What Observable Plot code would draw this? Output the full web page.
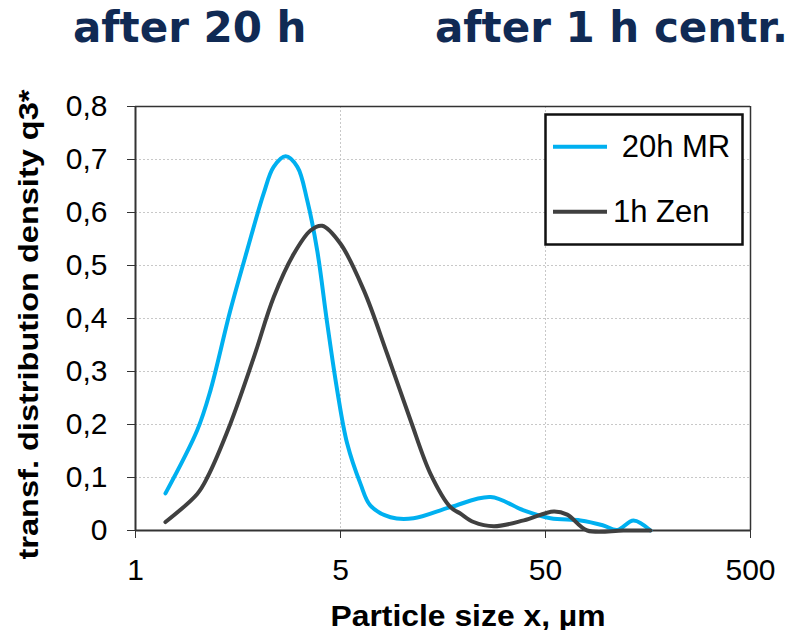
<!DOCTYPE html>
<html>
<head>
<meta charset="utf-8">
<script src="https://cdn.jsdelivr.net/npm/d3@7"></script>
<script src="https://cdn.jsdelivr.net/npm/@observablehq/plot@0.6"></script>
<style>
  html, body { margin: 0; padding: 0; background: #fff; }
  #wrap { position: relative; width: 794px; height: 630px; overflow: hidden; }
  #heads { position: relative; width: 794px; height: 64px; }
  .head { position: absolute; top: 7px; font-family: "DejaVu Sans", Verdana, sans-serif; font-weight: bold; font-size: 42px; line-height: 41px; color: #102a54; white-space: nowrap; }
  #legend { position: absolute; left: 544px; top: 113px; }
</style>
</head>
<body>
<div id="wrap">
  <div id="heads">
    <span class="head" style="left:73px">after 20 h</span>
    <span class="head" style="left:435px">after 1 h centr.</span>
  </div>
  <div id="chart"></div>
  <svg id="legend" width="200" height="133"></svg>
</div>
<script>
// ---- data ----
const seriesNames = ["20h MR", "1h Zen"];
const seriesColors = ["#00b0f0", "#404040"];

const mrX = [0.70, 1.00, 1.16, 1.45, 1.75, 2.11, 2.36, 2.70, 3.08, 3.44, 3.85, 4.31, 4.82, 5.39, 6.26, 7.0, 8.77, 11.35, 17.2, 27.0, 39.1, 52.9, 74.1, 95, 111.9, 134.4, 162.6];
const mrY = [0.070, 0.189, 0.264, 0.415, 0.528, 0.636, 0.686, 0.706, 0.686, 0.623, 0.528, 0.390, 0.264, 0.164, 0.088, 0.047, 0.025, 0.023, 0.044, 0.063, 0.038, 0.023, 0.019, 0.010, 0.001, 0.019, 0.0];

const zenX = [0.70, 1.00, 1.12, 1.45, 1.89, 2.36, 2.96, 3.57, 4.07, 5.0, 6.50, 8.45, 10.98, 13.74, 17.2, 19.2, 22.3, 28.0, 39.2, 54.9, 63.8, 79.9, 120, 162.6];
const zenY = [0.016, 0.069, 0.100, 0.201, 0.327, 0.440, 0.522, 0.566, 0.575, 0.541, 0.453, 0.333, 0.208, 0.107, 0.044, 0.032, 0.016, 0.008, 0.019, 0.036, 0.030, 0.0, 0.0, 0.0];

const xTicks = [0.5, 5, 50, 500];
const xTickLabels = ["1", "5", "50", "500"];
const yTicks = [0, 0.1, 0.2, 0.3, 0.4, 0.5, 0.6, 0.7, 0.8];
const yTickLabels = ["0", "0,1", "0,2", "0,3", "0,4", "0,5", "0,6", "0,7", "0,8"];
const yGrid = [0.1, 0.2, 0.3, 0.4, 0.5, 0.6, 0.7];
const xGrid = [5, 50];

const xLabel = "Particle size x, µm";
const yLabel = "transf. distribution density q3*";

const rows = [
  ...mrX.map((x, i) => ({x, y: mrY[i], s: seriesNames[0]})),
  ...zenX.map((x, i) => ({x, y: zenY[i], s: seriesNames[1]}))
];

const chart = Plot.plot({
  width: 794,
  height: 566,
  marginTop: 42,
  marginBottom: 100,
  marginLeft: 135,
  marginRight: 44,
  style: {fontFamily: "'Liberation Sans', Arial, sans-serif", fontSize: "30px", color: "#000", background: "transparent", overflow: "visible"},
  x: {type: "log", domain: [0.5, 500]},
  y: {domain: [0, 0.8]},
  color: {domain: seriesNames, range: seriesColors},
  marks: [
    Plot.gridY(yGrid, {stroke: "#c8c8c8", strokeOpacity: 1, strokeDasharray: "2,2", strokeWidth: 1}),
    Plot.gridX(xGrid, {stroke: "#c8c8c8", strokeOpacity: 1, strokeDasharray: "2,2", strokeWidth: 1}),
    Plot.ruleY([0.8], {stroke: "#333", strokeWidth: 1.5}),
    Plot.ruleX([500], {stroke: "#333", strokeWidth: 1.5}),
    Plot.axisY({
      ticks: yTicks,
      tickFormat: d => yTickLabels[yTicks.indexOf(d)],
      tickSize: 8, tickPadding: 20, stroke: "#333", fill: "#000",
      fontSize: 30,
      label: yLabel, labelAnchor: "center", labelOffset: 117, labelArrow: "none"
    }),
    Plot.axisX({
      ticks: xTicks,
      tickSize: 8, text: null, stroke: "#333",
      fontSize: 30,
      label: xLabel, labelAnchor: "center", labelOffset: 95, labelArrow: "none"
    }),
    Plot.text(xTicks, {
      x: d => d,
      text: (d, i) => xTickLabels[i],
      frameAnchor: "bottom", lineAnchor: "top", dy: 28,
      fontSize: 30, fill: "#000"
    }),
    Plot.ruleX([0.5], {stroke: "#333", strokeWidth: 2}),
    Plot.ruleY([0], {stroke: "#333", strokeWidth: 2}),
    Plot.line(rows, {x: "x", y: "y", z: "s", stroke: "s", strokeWidth: 4, curve: "catmull-rom"})
  ]
});
document.getElementById("chart").appendChild(chart);

// axis titles: bold, matched to the reference text length and placement
function shift(g, dx, dy) {
  if (!g) return;
  const t = g.getAttribute("transform") || "";
  g.setAttribute("transform", `translate(${dx},${dy}) ${t}`);
}
const ylg = chart.querySelector('[aria-label="y-axis label"]');
const yl = ylg && ylg.querySelector("text");
if (yl) { yl.textContent = yLabel; yl.style.fontWeight = "bold"; yl.style.fontSize = "28px"; yl.setAttribute("textLength", "470"); yl.setAttribute("lengthAdjust", "spacingAndGlyphs"); shift(ylg, 0, 6); }
const xlg = chart.querySelector('[aria-label="x-axis label"]');
const xl = xlg && xlg.querySelector("text");
if (xl) { xl.textContent = xLabel; xl.style.fontWeight = "bold"; xl.style.fontSize = "30px"; xl.setAttribute("textLength", "275"); xl.setAttribute("lengthAdjust", "spacingAndGlyphs"); shift(xlg, 25, 0); }

// legend
const lg = d3.select("#legend");
lg.append("rect").attr("x", 1.5).attr("y", 1.5).attr("width", 197).attr("height", 130)
  .attr("fill", "#fff").attr("stroke", "#111").attr("stroke-width", 2.5);
const legendRows = [
  {name: seriesNames[0], color: seriesColors[0], ly: 33.7, tx: 77.7, ty: 44.3},
  {name: seriesNames[1], color: seriesColors[1], ly: 98.7, tx: 69, ty: 108.7}
];
legendRows.forEach(r => {
  lg.append("line").attr("x1", 9).attr("x2", 63).attr("y1", r.ly).attr("y2", r.ly)
    .attr("stroke", r.color).attr("stroke-width", 4);
  lg.append("text").attr("x", r.tx).attr("y", r.ty).text(r.name)
    .attr("font-family", "'Liberation Sans', Arial, sans-serif").attr("font-size", 31).attr("fill", "#000");
});
</script>
</body>
</html>
